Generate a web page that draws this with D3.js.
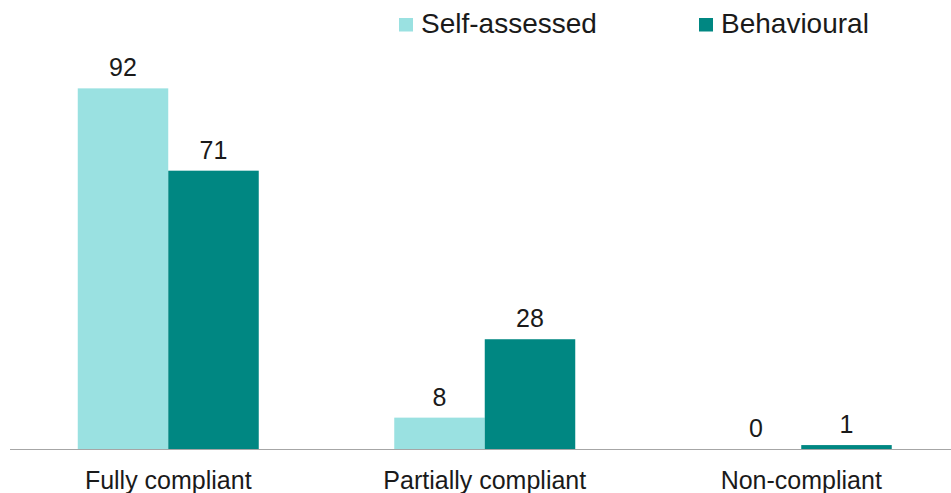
<!DOCTYPE html>
<html>
<head>
<meta charset="utf-8">
<script src="https://cdn.jsdelivr.net/npm/d3@7"></script>
<style>
  html, body { margin: 0; padding: 0; background: #fff; }
  svg { display: block; font-family: "Liberation Sans", Arial, sans-serif; }
</style>
</head>
<body>
<svg id="chart" width="951" height="493"></svg>
<script>
const categories = ["Fully compliant", "Partially compliant", "Non-compliant"];
const seriesNames = ["Self-assessed", "Behavioural"];
const selfAssessed = [92, 8, 0];
const behavioural = [71, 28, 1];
const colors = ["#9AE1E1", "#008782"];

const svg = d3.select("#chart");
const baseY = 449;

const x0 = d3.scaleBand().domain(categories).range([10, 959.5]).paddingInner(0).paddingOuter(0);
const x1 = d3.scaleBand().domain(seriesNames).range([0, 181]);
const y = d3.scaleLinear().domain([0, 100]).range([baseY, 57]);

const data = categories.map((c, i) => ({
  cat: c,
  vals: [
    { s: seriesNames[0], v: selfAssessed[i], c: colors[0] },
    { s: seriesNames[1], v: behavioural[i], c: colors[1] }
  ]
}));

const groups = svg.append("g").selectAll("g").data(data).join("g")
  .attr("transform", d => `translate(${x0(d.cat) + x0.bandwidth() / 2 - 90.5},0)`);

groups.selectAll("rect").data(d => d.vals).join("rect")
  .attr("x", d => x1(d.s))
  .attr("width", x1.bandwidth())
  .attr("y", d => y(d.v))
  .attr("height", d => baseY - y(d.v))
  .attr("fill", d => d.c);

groups.selectAll("text").data(d => d.vals).join("text")
  .attr("x", d => x1(d.s) + x1.bandwidth() / 2)
  .attr("y", d => y(d.v) - 12)
  .attr("text-anchor", "middle")
  .attr("font-size", 25)
  .attr("fill", "#1a1a1a")
  .text(d => d.v);

// x axis
const xAxis = d3.axisBottom(x0).tickSize(0).tickPadding(0);
const axisG = svg.append("g").attr("transform", `translate(0,${baseY})`).call(xAxis);
axisG.select(".domain").attr("d", `M10,0.5H951`).attr("stroke", "#a6a6a6").attr("stroke-width", 1.2);
axisG.selectAll(".tick text")
  .attr("dy", null)
  .attr("y", 40)
  .attr("font-size", 25)
  .attr("font-family", "Liberation Sans, Arial, sans-serif")
  .attr("fill", "#1a1a1a");

// legend
const legendX = [399, 699];
const leg = svg.append("g").selectAll("g").data(seriesNames).join("g")
  .attr("transform", (d, i) => `translate(${legendX[i]},18)`);
leg.append("rect").attr("width", 14).attr("height", 13.5).attr("fill", (d, i) => colors[i]);
leg.append("text").attr("x", 22).attr("y", 15).attr("font-size", 28).attr("fill", "#1a1a1a").text(d => d);
</script>
</body>
</html>
